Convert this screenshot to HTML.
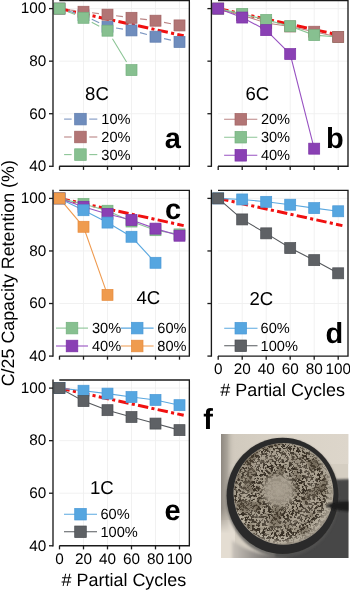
<!DOCTYPE html><html><head><meta charset="utf-8"><style>html,body{margin:0;padding:0;background:#fff;}svg{display:block;will-change:transform;}</style></head><body>
<svg width="350" height="591" viewBox="0 0 350 591" font-family='"Liberation Sans", sans-serif' fill="#000" text-rendering="geometricPrecision">
<rect width="350" height="591" fill="#fff"/>
<line x1="83.5" y1="0.53" x2="83.5" y2="166.28" stroke="#efefef" stroke-width="0.9"/>
<line x1="107.5" y1="0.53" x2="107.5" y2="166.28" stroke="#efefef" stroke-width="0.9"/>
<line x1="131.5" y1="0.53" x2="131.5" y2="166.28" stroke="#efefef" stroke-width="0.9"/>
<line x1="155.5" y1="0.53" x2="155.5" y2="166.28" stroke="#efefef" stroke-width="0.9"/>
<line x1="179.5" y1="0.53" x2="179.5" y2="166.28" stroke="#efefef" stroke-width="0.9"/>
<line x1="59.3" y1="113.72" x2="189.35" y2="113.72" stroke="#efefef" stroke-width="0.9"/>
<line x1="59.3" y1="61.16" x2="189.35" y2="61.16" stroke="#efefef" stroke-width="0.9"/>
<line x1="59.3" y1="8.6" x2="189.35" y2="8.6" stroke="#efefef" stroke-width="0.9"/>
<line x1="59.5" y1="8.6" x2="183.7" y2="35.8" stroke="#f01010" stroke-width="3" stroke-dasharray="10.4 3.3 3.1 3.3"/>
<path d="M67.99,10.92L75.01,12.85M91.79,19.17L99.21,22.74M116.06,28.05L122.94,29.1M140,32.65L147,34.49M164.03,38.59L170.97,40.11" fill="none" stroke="#7d97c2" stroke-width="1.1"/>
<path d="M68.07,9.73L74.93,10.63M92.08,12.79L98.92,13.61M116.07,15.77L122.93,16.67M140.08,18.83L146.92,19.66M164.04,22.37L170.96,23.74" fill="none" stroke="#bb8585" stroke-width="1.1"/>
<path d="M67.89,11.82L75.11,14.58M91.73,22.21L99.27,26.26M112.46,38.82L126.54,61.95" fill="none" stroke="#8cc596" stroke-width="1.1"/>
<rect x="54" y="3.1" width="11.0" height="11.0" fill="#6f8dbd" stroke="#5f7dae" stroke-width="0.7"/>
<rect x="78" y="9.67" width="11.0" height="11.0" fill="#6f8dbd" stroke="#5f7dae" stroke-width="0.7"/>
<rect x="102" y="21.23" width="11.0" height="11.0" fill="#6f8dbd" stroke="#5f7dae" stroke-width="0.7"/>
<rect x="126" y="24.91" width="11.0" height="11.0" fill="#6f8dbd" stroke="#5f7dae" stroke-width="0.7"/>
<rect x="150" y="31.22" width="11.0" height="11.0" fill="#6f8dbd" stroke="#5f7dae" stroke-width="0.7"/>
<rect x="174" y="36.48" width="11.0" height="11.0" fill="#6f8dbd" stroke="#5f7dae" stroke-width="0.7"/>
<rect x="54" y="3.1" width="11.0" height="11.0" fill="#b27575" stroke="#a16262" stroke-width="0.7"/>
<rect x="78" y="6.25" width="11.0" height="11.0" fill="#b27575" stroke="#a16262" stroke-width="0.7"/>
<rect x="102" y="9.14" width="11.0" height="11.0" fill="#b27575" stroke="#a16262" stroke-width="0.7"/>
<rect x="126" y="12.3" width="11.0" height="11.0" fill="#b27575" stroke="#a16262" stroke-width="0.7"/>
<rect x="150" y="15.19" width="11.0" height="11.0" fill="#b27575" stroke="#a16262" stroke-width="0.7"/>
<rect x="174" y="19.92" width="11.0" height="11.0" fill="#b27575" stroke="#a16262" stroke-width="0.7"/>
<rect x="54" y="3.1" width="11.0" height="11.0" fill="#87c090" stroke="#74b07e" stroke-width="0.7"/>
<rect x="78" y="12.3" width="11.0" height="11.0" fill="#87c090" stroke="#74b07e" stroke-width="0.7"/>
<rect x="102" y="25.18" width="11.0" height="11.0" fill="#87c090" stroke="#74b07e" stroke-width="0.7"/>
<rect x="126" y="64.6" width="11.0" height="11.0" fill="#87c090" stroke="#74b07e" stroke-width="0.7"/>
<path d="M59.3,0.53 H189.35 V166.28 H59.3" fill="none" stroke="#1a1a1a" stroke-width="1.35"/>
<line x1="53" y1="-0.07" x2="53" y2="166.88" stroke="#1a1a1a" stroke-width="1.35"/>
<line x1="49" y1="166.28" x2="53" y2="166.28" stroke="#1a1a1a" stroke-width="1.3"/>
<text x="46.2" y="171.08" text-anchor="end" font-size="15.3">40</text>
<line x1="49" y1="113.72" x2="53" y2="113.72" stroke="#1a1a1a" stroke-width="1.3"/>
<text x="46.2" y="118.52" text-anchor="end" font-size="15.3">60</text>
<line x1="49" y1="61.16" x2="53" y2="61.16" stroke="#1a1a1a" stroke-width="1.3"/>
<text x="46.2" y="65.96" text-anchor="end" font-size="15.3">80</text>
<line x1="49" y1="8.6" x2="53" y2="8.6" stroke="#1a1a1a" stroke-width="1.3"/>
<text x="46.2" y="13.4" text-anchor="end" font-size="15.3">100</text>
<line x1="59.5" y1="166.28" x2="59.5" y2="169.88" stroke="#1a1a1a" stroke-width="1.3"/>
<line x1="83.5" y1="166.28" x2="83.5" y2="169.88" stroke="#1a1a1a" stroke-width="1.3"/>
<line x1="107.5" y1="166.28" x2="107.5" y2="169.88" stroke="#1a1a1a" stroke-width="1.3"/>
<line x1="131.5" y1="166.28" x2="131.5" y2="169.88" stroke="#1a1a1a" stroke-width="1.3"/>
<line x1="155.5" y1="166.28" x2="155.5" y2="169.88" stroke="#1a1a1a" stroke-width="1.3"/>
<line x1="179.5" y1="166.28" x2="179.5" y2="169.88" stroke="#1a1a1a" stroke-width="1.3"/>
<text x="97" y="99.6" text-anchor="middle" font-size="18.6">8C</text>
<line x1="64.1" y1="119.1" x2="71.65" y2="119.1" stroke="#7d97c2" stroke-width="1.1"/>
<line x1="89.25" y1="119.1" x2="97.3" y2="119.1" stroke="#7d97c2" stroke-width="1.1"/>
<rect x="74.65" y="113.3" width="11.6" height="11.6" fill="#6f8dbd" stroke="#5f7dae" stroke-width="0.7"/>
<text x="101.3" y="124.2" font-size="14.6">10%</text>
<line x1="64.1" y1="137" x2="71.65" y2="137" stroke="#bb8585" stroke-width="1.1"/>
<line x1="89.25" y1="137" x2="97.3" y2="137" stroke="#bb8585" stroke-width="1.1"/>
<rect x="74.65" y="131.2" width="11.6" height="11.6" fill="#b27575" stroke="#a16262" stroke-width="0.7"/>
<text x="101.3" y="142.1" font-size="14.6">20%</text>
<line x1="64.1" y1="154.6" x2="71.65" y2="154.6" stroke="#8cc596" stroke-width="1.1"/>
<line x1="89.25" y1="154.6" x2="97.3" y2="154.6" stroke="#8cc596" stroke-width="1.1"/>
<rect x="74.65" y="148.8" width="11.6" height="11.6" fill="#87c090" stroke="#74b07e" stroke-width="0.7"/>
<text x="101.3" y="159.7" font-size="14.6">30%</text>
<text x="172.75" y="147.8" text-anchor="middle" font-size="29" font-weight="bold">a</text>
<line x1="242.2" y1="0.53" x2="242.2" y2="166.28" stroke="#efefef" stroke-width="0.9"/>
<line x1="266.2" y1="0.53" x2="266.2" y2="166.28" stroke="#efefef" stroke-width="0.9"/>
<line x1="290.2" y1="0.53" x2="290.2" y2="166.28" stroke="#efefef" stroke-width="0.9"/>
<line x1="314.2" y1="0.53" x2="314.2" y2="166.28" stroke="#efefef" stroke-width="0.9"/>
<line x1="338.2" y1="0.53" x2="338.2" y2="166.28" stroke="#efefef" stroke-width="0.9"/>
<line x1="218" y1="113.72" x2="348" y2="113.72" stroke="#efefef" stroke-width="0.9"/>
<line x1="218" y1="61.16" x2="348" y2="61.16" stroke="#efefef" stroke-width="0.9"/>
<line x1="218" y1="8.6" x2="348" y2="8.6" stroke="#efefef" stroke-width="0.9"/>
<line x1="218.2" y1="8.6" x2="342.4" y2="35.8" stroke="#f01010" stroke-width="3" stroke-dasharray="10.4 3.3 3.1 3.3"/>
<polyline points="218.2,8.6 242.2,15.17 266.2,23.05 290.2,26.47 314.2,31.73 338.2,36.98" fill="none" stroke="#bb8585" stroke-width="1.1"/>
<polyline points="218.2,8.6 242.2,13.86 266.2,19.9 290.2,26.21 314.2,35.14 338.2,36.98" fill="none" stroke="#8cc596" stroke-width="1.1"/>
<polyline points="218.2,8.6 242.2,17.54 266.2,30.15 290.2,54.06 314.2,148.67" fill="none" stroke="#9852c2" stroke-width="1.1"/>
<rect x="332.7" y="31.48" width="11.0" height="11.0" fill="#87c090" stroke="#74b07e" stroke-width="0.7"/>
<rect x="212.7" y="3.1" width="11.0" height="11.0" fill="#b27575" stroke="#a16262" stroke-width="0.7"/>
<rect x="236.7" y="9.67" width="11.0" height="11.0" fill="#b27575" stroke="#a16262" stroke-width="0.7"/>
<rect x="260.7" y="17.55" width="11.0" height="11.0" fill="#b27575" stroke="#a16262" stroke-width="0.7"/>
<rect x="284.7" y="20.97" width="11.0" height="11.0" fill="#b27575" stroke="#a16262" stroke-width="0.7"/>
<rect x="308.7" y="26.23" width="11.0" height="11.0" fill="#b27575" stroke="#a16262" stroke-width="0.7"/>
<rect x="332.7" y="31.48" width="11.0" height="11.0" fill="#b27575" stroke="#a16262" stroke-width="0.7"/>
<rect x="212.7" y="3.1" width="11.0" height="11.0" fill="#87c090" stroke="#74b07e" stroke-width="0.7"/>
<rect x="236.7" y="8.36" width="11.0" height="11.0" fill="#87c090" stroke="#74b07e" stroke-width="0.7"/>
<rect x="260.7" y="14.4" width="11.0" height="11.0" fill="#87c090" stroke="#74b07e" stroke-width="0.7"/>
<rect x="284.7" y="20.71" width="11.0" height="11.0" fill="#87c090" stroke="#74b07e" stroke-width="0.7"/>
<rect x="308.7" y="29.64" width="11.0" height="11.0" fill="#87c090" stroke="#74b07e" stroke-width="0.7"/>
<rect x="212.7" y="3.1" width="11.0" height="11.0" fill="#8a40b4" stroke="#7b31a6" stroke-width="0.7"/>
<rect x="236.7" y="12.04" width="11.0" height="11.0" fill="#8a40b4" stroke="#7b31a6" stroke-width="0.7"/>
<rect x="260.7" y="24.65" width="11.0" height="11.0" fill="#8a40b4" stroke="#7b31a6" stroke-width="0.7"/>
<rect x="284.7" y="48.56" width="11.0" height="11.0" fill="#8a40b4" stroke="#7b31a6" stroke-width="0.7"/>
<rect x="308.7" y="143.17" width="11.0" height="11.0" fill="#8a40b4" stroke="#7b31a6" stroke-width="0.7"/>
<path d="M218,0.53 H348 V166.28 H218" fill="none" stroke="#1a1a1a" stroke-width="1.35"/>
<line x1="211.4" y1="-0.07" x2="211.4" y2="166.88" stroke="#1a1a1a" stroke-width="1.35"/>
<line x1="207.4" y1="166.28" x2="211.4" y2="166.28" stroke="#1a1a1a" stroke-width="1.3"/>
<line x1="207.4" y1="113.72" x2="211.4" y2="113.72" stroke="#1a1a1a" stroke-width="1.3"/>
<line x1="207.4" y1="61.16" x2="211.4" y2="61.16" stroke="#1a1a1a" stroke-width="1.3"/>
<line x1="207.4" y1="8.6" x2="211.4" y2="8.6" stroke="#1a1a1a" stroke-width="1.3"/>
<line x1="218.2" y1="166.28" x2="218.2" y2="169.88" stroke="#1a1a1a" stroke-width="1.3"/>
<line x1="242.2" y1="166.28" x2="242.2" y2="169.88" stroke="#1a1a1a" stroke-width="1.3"/>
<line x1="266.2" y1="166.28" x2="266.2" y2="169.88" stroke="#1a1a1a" stroke-width="1.3"/>
<line x1="290.2" y1="166.28" x2="290.2" y2="169.88" stroke="#1a1a1a" stroke-width="1.3"/>
<line x1="314.2" y1="166.28" x2="314.2" y2="169.88" stroke="#1a1a1a" stroke-width="1.3"/>
<line x1="338.2" y1="166.28" x2="338.2" y2="169.88" stroke="#1a1a1a" stroke-width="1.3"/>
<text x="257.3" y="99.8" text-anchor="middle" font-size="18.6">6C</text>
<line x1="224.1" y1="119.3" x2="257.3" y2="119.3" stroke="#bb8585" stroke-width="1.1"/>
<rect x="235" y="113.5" width="11.6" height="11.6" fill="#b27575" stroke="#a16262" stroke-width="0.7"/>
<text x="260.9" y="124.4" font-size="14.6">20%</text>
<line x1="224.1" y1="137.2" x2="257.3" y2="137.2" stroke="#8cc596" stroke-width="1.1"/>
<rect x="235" y="131.4" width="11.6" height="11.6" fill="#87c090" stroke="#74b07e" stroke-width="0.7"/>
<text x="260.9" y="142.3" font-size="14.6">30%</text>
<line x1="224.1" y1="155.3" x2="257.3" y2="155.3" stroke="#9852c2" stroke-width="1.1"/>
<rect x="235" y="149.5" width="11.6" height="11.6" fill="#8a40b4" stroke="#7b31a6" stroke-width="0.7"/>
<text x="260.9" y="160.4" font-size="14.6">40%</text>
<text x="334.95" y="147.9" text-anchor="middle" font-size="29" font-weight="bold">b</text>
<line x1="83.5" y1="190.33" x2="83.5" y2="356.08" stroke="#efefef" stroke-width="0.9"/>
<line x1="107.5" y1="190.33" x2="107.5" y2="356.08" stroke="#efefef" stroke-width="0.9"/>
<line x1="131.5" y1="190.33" x2="131.5" y2="356.08" stroke="#efefef" stroke-width="0.9"/>
<line x1="155.5" y1="190.33" x2="155.5" y2="356.08" stroke="#efefef" stroke-width="0.9"/>
<line x1="179.5" y1="190.33" x2="179.5" y2="356.08" stroke="#efefef" stroke-width="0.9"/>
<line x1="59.3" y1="303.52" x2="189.35" y2="303.52" stroke="#efefef" stroke-width="0.9"/>
<line x1="59.3" y1="250.96" x2="189.35" y2="250.96" stroke="#efefef" stroke-width="0.9"/>
<line x1="59.3" y1="198.4" x2="189.35" y2="198.4" stroke="#efefef" stroke-width="0.9"/>
<line x1="59.5" y1="198.4" x2="183.7" y2="225.6" stroke="#f01010" stroke-width="3" stroke-dasharray="10.4 3.3 3.1 3.3"/>
<polyline points="59.5,198.4 83.5,203.92 107.5,210.75 131.5,221.53 155.5,230.2 179.5,234.4" fill="none" stroke="#8cc596" stroke-width="1.1"/>
<polyline points="59.5,198.4 83.5,206.81 107.5,213.91 131.5,219.95 155.5,228.62 179.5,235.72" fill="none" stroke="#9852c2" stroke-width="1.1"/>
<polyline points="59.5,198.4 83.5,210.23 107.5,222.58 131.5,236.77 155.5,262.79" fill="none" stroke="#5aa8e0" stroke-width="1.1"/>
<polyline points="59.5,198.4 83.5,226.78 107.5,294.85" fill="none" stroke="#ef9b50" stroke-width="1.1"/>
<rect x="54" y="192.9" width="11.0" height="11.0" fill="#87c090" stroke="#74b07e" stroke-width="0.7"/>
<rect x="78" y="198.42" width="11.0" height="11.0" fill="#87c090" stroke="#74b07e" stroke-width="0.7"/>
<rect x="102" y="205.25" width="11.0" height="11.0" fill="#87c090" stroke="#74b07e" stroke-width="0.7"/>
<rect x="126" y="216.03" width="11.0" height="11.0" fill="#87c090" stroke="#74b07e" stroke-width="0.7"/>
<rect x="150" y="224.7" width="11.0" height="11.0" fill="#87c090" stroke="#74b07e" stroke-width="0.7"/>
<rect x="174" y="228.9" width="11.0" height="11.0" fill="#87c090" stroke="#74b07e" stroke-width="0.7"/>
<rect x="54" y="192.9" width="11.0" height="11.0" fill="#8a40b4" stroke="#7b31a6" stroke-width="0.7"/>
<rect x="78" y="201.31" width="11.0" height="11.0" fill="#8a40b4" stroke="#7b31a6" stroke-width="0.7"/>
<rect x="102" y="208.41" width="11.0" height="11.0" fill="#8a40b4" stroke="#7b31a6" stroke-width="0.7"/>
<rect x="126" y="214.45" width="11.0" height="11.0" fill="#8a40b4" stroke="#7b31a6" stroke-width="0.7"/>
<rect x="150" y="223.12" width="11.0" height="11.0" fill="#8a40b4" stroke="#7b31a6" stroke-width="0.7"/>
<rect x="174" y="230.22" width="11.0" height="11.0" fill="#8a40b4" stroke="#7b31a6" stroke-width="0.7"/>
<rect x="54" y="192.9" width="11.0" height="11.0" fill="#56a6e0" stroke="#4b99d6" stroke-width="0.7"/>
<rect x="78" y="204.73" width="11.0" height="11.0" fill="#56a6e0" stroke="#4b99d6" stroke-width="0.7"/>
<rect x="102" y="217.08" width="11.0" height="11.0" fill="#56a6e0" stroke="#4b99d6" stroke-width="0.7"/>
<rect x="126" y="231.27" width="11.0" height="11.0" fill="#56a6e0" stroke="#4b99d6" stroke-width="0.7"/>
<rect x="150" y="257.29" width="11.0" height="11.0" fill="#56a6e0" stroke="#4b99d6" stroke-width="0.7"/>
<rect x="54" y="192.9" width="11.0" height="11.0" fill="#ef9b4e" stroke="#e78b3d" stroke-width="0.7"/>
<rect x="78" y="221.28" width="11.0" height="11.0" fill="#ef9b4e" stroke="#e78b3d" stroke-width="0.7"/>
<rect x="102" y="289.35" width="11.0" height="11.0" fill="#ef9b4e" stroke="#e78b3d" stroke-width="0.7"/>
<path d="M59.3,190.33 H189.35 V356.08 H59.3" fill="none" stroke="#1a1a1a" stroke-width="1.35"/>
<line x1="53" y1="189.73" x2="53" y2="356.68" stroke="#1a1a1a" stroke-width="1.35"/>
<line x1="49" y1="356.08" x2="53" y2="356.08" stroke="#1a1a1a" stroke-width="1.3"/>
<text x="46.2" y="360.88" text-anchor="end" font-size="15.3">40</text>
<line x1="49" y1="303.52" x2="53" y2="303.52" stroke="#1a1a1a" stroke-width="1.3"/>
<text x="46.2" y="308.32" text-anchor="end" font-size="15.3">60</text>
<line x1="49" y1="250.96" x2="53" y2="250.96" stroke="#1a1a1a" stroke-width="1.3"/>
<text x="46.2" y="255.76" text-anchor="end" font-size="15.3">80</text>
<line x1="49" y1="198.4" x2="53" y2="198.4" stroke="#1a1a1a" stroke-width="1.3"/>
<text x="46.2" y="203.2" text-anchor="end" font-size="15.3">100</text>
<line x1="59.5" y1="356.08" x2="59.5" y2="359.68" stroke="#1a1a1a" stroke-width="1.3"/>
<line x1="83.5" y1="356.08" x2="83.5" y2="359.68" stroke="#1a1a1a" stroke-width="1.3"/>
<line x1="107.5" y1="356.08" x2="107.5" y2="359.68" stroke="#1a1a1a" stroke-width="1.3"/>
<line x1="131.5" y1="356.08" x2="131.5" y2="359.68" stroke="#1a1a1a" stroke-width="1.3"/>
<line x1="155.5" y1="356.08" x2="155.5" y2="359.68" stroke="#1a1a1a" stroke-width="1.3"/>
<line x1="179.5" y1="356.08" x2="179.5" y2="359.68" stroke="#1a1a1a" stroke-width="1.3"/>
<text x="148.3" y="304.4" text-anchor="middle" font-size="18.6">4C</text>
<line x1="56" y1="328.1" x2="88" y2="328.1" stroke="#8cc596" stroke-width="1.1"/>
<rect x="66.2" y="322.3" width="11.6" height="11.6" fill="#87c090" stroke="#74b07e" stroke-width="0.7"/>
<text x="92" y="333.2" font-size="14.6">30%</text>
<line x1="56" y1="346" x2="88" y2="346" stroke="#9852c2" stroke-width="1.1"/>
<rect x="66.2" y="340.2" width="11.6" height="11.6" fill="#8a40b4" stroke="#7b31a6" stroke-width="0.7"/>
<text x="92" y="351.1" font-size="14.6">40%</text>
<line x1="121" y1="328.1" x2="153.6" y2="328.1" stroke="#5aa8e0" stroke-width="1.1"/>
<rect x="131.4" y="322.3" width="11.6" height="11.6" fill="#56a6e0" stroke="#4b99d6" stroke-width="0.7"/>
<text x="157.3" y="333.2" font-size="14.6">60%</text>
<line x1="121" y1="346" x2="153.6" y2="346" stroke="#ef9b50" stroke-width="1.1"/>
<rect x="131.4" y="340.2" width="11.6" height="11.6" fill="#ef9b4e" stroke="#e78b3d" stroke-width="0.7"/>
<text x="157.3" y="351.1" font-size="14.6">80%</text>
<text x="173" y="219.2" text-anchor="middle" font-size="29" font-weight="bold">c</text>
<line x1="242.2" y1="190.33" x2="242.2" y2="356.08" stroke="#efefef" stroke-width="0.9"/>
<line x1="266.2" y1="190.33" x2="266.2" y2="356.08" stroke="#efefef" stroke-width="0.9"/>
<line x1="290.2" y1="190.33" x2="290.2" y2="356.08" stroke="#efefef" stroke-width="0.9"/>
<line x1="314.2" y1="190.33" x2="314.2" y2="356.08" stroke="#efefef" stroke-width="0.9"/>
<line x1="338.2" y1="190.33" x2="338.2" y2="356.08" stroke="#efefef" stroke-width="0.9"/>
<line x1="218" y1="303.52" x2="348" y2="303.52" stroke="#efefef" stroke-width="0.9"/>
<line x1="218" y1="250.96" x2="348" y2="250.96" stroke="#efefef" stroke-width="0.9"/>
<line x1="218" y1="198.4" x2="348" y2="198.4" stroke="#efefef" stroke-width="0.9"/>
<line x1="218.2" y1="198.4" x2="342.4" y2="225.6" stroke="#f01010" stroke-width="3" stroke-dasharray="10.4 3.3 3.1 3.3"/>
<polyline points="218.2,198.4 242.2,199.45 266.2,201.82 290.2,204.71 314.2,208.12 338.2,211.28" fill="none" stroke="#5aa8e0" stroke-width="1.1"/>
<polyline points="218.2,198.4 242.2,219.42 266.2,233.35 290.2,248.07 314.2,260.16 338.2,273.3" fill="none" stroke="#55585c" stroke-width="1.1"/>
<rect x="212.7" y="192.9" width="11.0" height="11.0" fill="#56a6e0" stroke="#4b99d6" stroke-width="0.7"/>
<rect x="236.7" y="193.95" width="11.0" height="11.0" fill="#56a6e0" stroke="#4b99d6" stroke-width="0.7"/>
<rect x="260.7" y="196.32" width="11.0" height="11.0" fill="#56a6e0" stroke="#4b99d6" stroke-width="0.7"/>
<rect x="284.7" y="199.21" width="11.0" height="11.0" fill="#56a6e0" stroke="#4b99d6" stroke-width="0.7"/>
<rect x="308.7" y="202.62" width="11.0" height="11.0" fill="#56a6e0" stroke="#4b99d6" stroke-width="0.7"/>
<rect x="332.7" y="205.78" width="11.0" height="11.0" fill="#56a6e0" stroke="#4b99d6" stroke-width="0.7"/>
<rect x="212.7" y="192.9" width="11.0" height="11.0" fill="#5e6165" stroke="#4c4f53" stroke-width="0.7"/>
<rect x="236.7" y="213.92" width="11.0" height="11.0" fill="#5e6165" stroke="#4c4f53" stroke-width="0.7"/>
<rect x="260.7" y="227.85" width="11.0" height="11.0" fill="#5e6165" stroke="#4c4f53" stroke-width="0.7"/>
<rect x="284.7" y="242.57" width="11.0" height="11.0" fill="#5e6165" stroke="#4c4f53" stroke-width="0.7"/>
<rect x="308.7" y="254.66" width="11.0" height="11.0" fill="#5e6165" stroke="#4c4f53" stroke-width="0.7"/>
<rect x="332.7" y="267.8" width="11.0" height="11.0" fill="#5e6165" stroke="#4c4f53" stroke-width="0.7"/>
<path d="M218,190.33 H348 V356.08 H218" fill="none" stroke="#1a1a1a" stroke-width="1.35"/>
<line x1="211.4" y1="189.73" x2="211.4" y2="356.68" stroke="#1a1a1a" stroke-width="1.35"/>
<line x1="207.4" y1="356.08" x2="211.4" y2="356.08" stroke="#1a1a1a" stroke-width="1.3"/>
<line x1="207.4" y1="303.52" x2="211.4" y2="303.52" stroke="#1a1a1a" stroke-width="1.3"/>
<line x1="207.4" y1="250.96" x2="211.4" y2="250.96" stroke="#1a1a1a" stroke-width="1.3"/>
<line x1="207.4" y1="198.4" x2="211.4" y2="198.4" stroke="#1a1a1a" stroke-width="1.3"/>
<line x1="218.2" y1="356.08" x2="218.2" y2="359.68" stroke="#1a1a1a" stroke-width="1.3"/>
<text x="218.2" y="374.28" text-anchor="middle" font-size="15.3">0</text>
<line x1="242.2" y1="356.08" x2="242.2" y2="359.68" stroke="#1a1a1a" stroke-width="1.3"/>
<text x="242.2" y="374.28" text-anchor="middle" font-size="15.3">20</text>
<line x1="266.2" y1="356.08" x2="266.2" y2="359.68" stroke="#1a1a1a" stroke-width="1.3"/>
<text x="266.2" y="374.28" text-anchor="middle" font-size="15.3">40</text>
<line x1="290.2" y1="356.08" x2="290.2" y2="359.68" stroke="#1a1a1a" stroke-width="1.3"/>
<text x="290.2" y="374.28" text-anchor="middle" font-size="15.3">60</text>
<line x1="314.2" y1="356.08" x2="314.2" y2="359.68" stroke="#1a1a1a" stroke-width="1.3"/>
<text x="314.2" y="374.28" text-anchor="middle" font-size="15.3">80</text>
<line x1="338.2" y1="356.08" x2="338.2" y2="359.68" stroke="#1a1a1a" stroke-width="1.3"/>
<text x="338.2" y="374.28" text-anchor="middle" font-size="15.3">100</text>
<text x="282.6" y="396.38" text-anchor="middle" font-size="17.95"># Partial Cycles</text>
<text x="261.35" y="304.6" text-anchor="middle" font-size="18.6">2C</text>
<line x1="224.2" y1="328.2" x2="257.5" y2="328.2" stroke="#5aa8e0" stroke-width="1.1"/>
<rect x="235" y="322.4" width="11.6" height="11.6" fill="#56a6e0" stroke="#4b99d6" stroke-width="0.7"/>
<text x="260.6" y="333.3" font-size="14.6">60%</text>
<line x1="224.2" y1="345.8" x2="257.5" y2="345.8" stroke="#55585c" stroke-width="1.1"/>
<rect x="235" y="340" width="11.6" height="11.6" fill="#5e6165" stroke="#4c4f53" stroke-width="0.7"/>
<text x="260.6" y="350.9" font-size="14.6">100%</text>
<text x="334.25" y="342.9" text-anchor="middle" font-size="29" font-weight="bold">d</text>
<line x1="83.5" y1="380.03" x2="83.5" y2="545.78" stroke="#efefef" stroke-width="0.9"/>
<line x1="107.5" y1="380.03" x2="107.5" y2="545.78" stroke="#efefef" stroke-width="0.9"/>
<line x1="131.5" y1="380.03" x2="131.5" y2="545.78" stroke="#efefef" stroke-width="0.9"/>
<line x1="155.5" y1="380.03" x2="155.5" y2="545.78" stroke="#efefef" stroke-width="0.9"/>
<line x1="179.5" y1="380.03" x2="179.5" y2="545.78" stroke="#efefef" stroke-width="0.9"/>
<line x1="59.3" y1="493.22" x2="189.35" y2="493.22" stroke="#efefef" stroke-width="0.9"/>
<line x1="59.3" y1="440.66" x2="189.35" y2="440.66" stroke="#efefef" stroke-width="0.9"/>
<line x1="59.3" y1="388.1" x2="189.35" y2="388.1" stroke="#efefef" stroke-width="0.9"/>
<line x1="59.5" y1="388.1" x2="183.7" y2="415.3" stroke="#f01010" stroke-width="3" stroke-dasharray="10.4 3.3 3.1 3.3"/>
<polyline points="59.5,388.1 83.5,390.73 107.5,393.62 131.5,397.04 155.5,399.93 179.5,405.18" fill="none" stroke="#5aa8e0" stroke-width="1.1"/>
<polyline points="59.5,388.1 83.5,401.11 107.5,410.18 131.5,417.01 155.5,423.58 179.5,430.15" fill="none" stroke="#55585c" stroke-width="1.1"/>
<rect x="54" y="382.6" width="11.0" height="11.0" fill="#56a6e0" stroke="#4b99d6" stroke-width="0.7"/>
<rect x="78" y="385.23" width="11.0" height="11.0" fill="#56a6e0" stroke="#4b99d6" stroke-width="0.7"/>
<rect x="102" y="388.12" width="11.0" height="11.0" fill="#56a6e0" stroke="#4b99d6" stroke-width="0.7"/>
<rect x="126" y="391.54" width="11.0" height="11.0" fill="#56a6e0" stroke="#4b99d6" stroke-width="0.7"/>
<rect x="150" y="394.43" width="11.0" height="11.0" fill="#56a6e0" stroke="#4b99d6" stroke-width="0.7"/>
<rect x="174" y="399.68" width="11.0" height="11.0" fill="#56a6e0" stroke="#4b99d6" stroke-width="0.7"/>
<rect x="54" y="382.6" width="11.0" height="11.0" fill="#5e6165" stroke="#4c4f53" stroke-width="0.7"/>
<rect x="78" y="395.61" width="11.0" height="11.0" fill="#5e6165" stroke="#4c4f53" stroke-width="0.7"/>
<rect x="102" y="404.68" width="11.0" height="11.0" fill="#5e6165" stroke="#4c4f53" stroke-width="0.7"/>
<rect x="126" y="411.51" width="11.0" height="11.0" fill="#5e6165" stroke="#4c4f53" stroke-width="0.7"/>
<rect x="150" y="418.08" width="11.0" height="11.0" fill="#5e6165" stroke="#4c4f53" stroke-width="0.7"/>
<rect x="174" y="424.65" width="11.0" height="11.0" fill="#5e6165" stroke="#4c4f53" stroke-width="0.7"/>
<path d="M59.3,380.03 H189.35 V545.78 H59.3" fill="none" stroke="#1a1a1a" stroke-width="1.35"/>
<line x1="53" y1="379.43" x2="53" y2="546.38" stroke="#1a1a1a" stroke-width="1.35"/>
<line x1="49" y1="545.78" x2="53" y2="545.78" stroke="#1a1a1a" stroke-width="1.3"/>
<text x="46.2" y="550.58" text-anchor="end" font-size="15.3">40</text>
<line x1="49" y1="493.22" x2="53" y2="493.22" stroke="#1a1a1a" stroke-width="1.3"/>
<text x="46.2" y="498.02" text-anchor="end" font-size="15.3">60</text>
<line x1="49" y1="440.66" x2="53" y2="440.66" stroke="#1a1a1a" stroke-width="1.3"/>
<text x="46.2" y="445.46" text-anchor="end" font-size="15.3">80</text>
<line x1="49" y1="388.1" x2="53" y2="388.1" stroke="#1a1a1a" stroke-width="1.3"/>
<text x="46.2" y="392.9" text-anchor="end" font-size="15.3">100</text>
<line x1="59.5" y1="545.78" x2="59.5" y2="549.38" stroke="#1a1a1a" stroke-width="1.3"/>
<text x="59.5" y="563.98" text-anchor="middle" font-size="15.3">0</text>
<line x1="83.5" y1="545.78" x2="83.5" y2="549.38" stroke="#1a1a1a" stroke-width="1.3"/>
<text x="83.5" y="563.98" text-anchor="middle" font-size="15.3">20</text>
<line x1="107.5" y1="545.78" x2="107.5" y2="549.38" stroke="#1a1a1a" stroke-width="1.3"/>
<text x="107.5" y="563.98" text-anchor="middle" font-size="15.3">40</text>
<line x1="131.5" y1="545.78" x2="131.5" y2="549.38" stroke="#1a1a1a" stroke-width="1.3"/>
<text x="131.5" y="563.98" text-anchor="middle" font-size="15.3">60</text>
<line x1="155.5" y1="545.78" x2="155.5" y2="549.38" stroke="#1a1a1a" stroke-width="1.3"/>
<text x="155.5" y="563.98" text-anchor="middle" font-size="15.3">80</text>
<line x1="179.5" y1="545.78" x2="179.5" y2="549.38" stroke="#1a1a1a" stroke-width="1.3"/>
<text x="179.5" y="563.98" text-anchor="middle" font-size="15.3">100</text>
<text x="123.92" y="586.08" text-anchor="middle" font-size="17.95"># Partial Cycles</text>
<text x="101.8" y="494" text-anchor="middle" font-size="18.6">1C</text>
<line x1="64" y1="514.2" x2="97" y2="514.2" stroke="#5aa8e0" stroke-width="1.1"/>
<rect x="74.7" y="508.4" width="11.6" height="11.6" fill="#56a6e0" stroke="#4b99d6" stroke-width="0.7"/>
<text x="100.5" y="519.3" font-size="14.6">60%</text>
<line x1="64" y1="531.8" x2="97" y2="531.8" stroke="#55585c" stroke-width="1.1"/>
<rect x="74.7" y="526" width="11.6" height="11.6" fill="#5e6165" stroke="#4c4f53" stroke-width="0.7"/>
<text x="100.5" y="536.9" font-size="14.6">100%</text>
<text x="172.55" y="520.1" text-anchor="middle" font-size="29" font-weight="bold">e</text>
<text transform="translate(13.5,273.2) rotate(-90)" text-anchor="middle" font-size="17.85">C/25 Capacity Retention (%)</text>
<text x="208.15" y="429" text-anchor="middle" font-size="29" font-weight="bold">f</text>
<g>
<defs>
<clipPath id="pc"><rect x="221" y="434" width="127.5" height="124"/></clipPath>
<linearGradient id="lstrip" x1="0" y1="0" x2="0" y2="1">
<stop offset="0" stop-color="#b4ada3"/><stop offset="0.55" stop-color="#c3bcb1"/><stop offset="0.75" stop-color="#dcd5ca"/><stop offset="1" stop-color="#e2dbd0"/>
</linearGradient>
<linearGradient id="topg" x1="0" y1="0" x2="1" y2="0">
<stop offset="0" stop-color="#cfc8bc"/><stop offset="0.5" stop-color="#d9d2c6"/><stop offset="1" stop-color="#ddd6cb"/>
</linearGradient>
<radialGradient id="inner" cx="0.47" cy="0.45" r="0.55">
<stop offset="0" stop-color="#aca394"/><stop offset="0.22" stop-color="#a9a091"/><stop offset="0.4" stop-color="#a09787"/><stop offset="0.6" stop-color="#a89f90"/><stop offset="0.8" stop-color="#9d9484"/><stop offset="0.88" stop-color="#b2aa9b"/><stop offset="0.96" stop-color="#b6ae9f"/><stop offset="1" stop-color="#a0988b"/>
</radialGradient>
<radialGradient id="spmask" cx="0.45" cy="0.47" r="0.55">
<stop offset="0" stop-color="#fff" stop-opacity="0"/><stop offset="0.24" stop-color="#fff" stop-opacity="0.15"/><stop offset="0.36" stop-color="#fff" stop-opacity="0.9"/><stop offset="0.48" stop-color="#fff" stop-opacity="1"/><stop offset="0.6" stop-color="#fff" stop-opacity="0.65"/><stop offset="0.7" stop-color="#fff" stop-opacity="0.8"/><stop offset="0.8" stop-color="#fff" stop-opacity="1"/><stop offset="0.87" stop-color="#fff" stop-opacity="0.8"/><stop offset="0.93" stop-color="#fff" stop-opacity="0.3"/><stop offset="1" stop-color="#fff" stop-opacity="0.15"/>
</radialGradient>
<mask id="spm"><ellipse cx="283.5" cy="493.8" rx="49.5" ry="50.4" fill="url(#spmask)"/></mask>
<filter id="spk" x="230" y="440" width="110" height="110" filterUnits="userSpaceOnUse" color-interpolation-filters="sRGB">
<feTurbulence type="fractalNoise" baseFrequency="0.38" numOctaves="3" seed="7" result="n"/>
<feColorMatrix in="n" type="matrix" values="0 0 0 0 0.2  0 0 0 0 0.17  0 0 0 0 0.13  -18 0 0 0 9.4"/>
<feGaussianBlur stdDeviation="0.5"/>
</filter>
<filter id="lsp" x="230" y="440" width="110" height="110" filterUnits="userSpaceOnUse" color-interpolation-filters="sRGB">
<feTurbulence type="fractalNoise" baseFrequency="0.35" numOctaves="2" seed="11" result="n"/>
<feColorMatrix in="n" type="matrix" values="0 0 0 0 0.8  0 0 0 0 0.76  0 0 0 0 0.68  0 9 0 0 -4.8"/>
<feGaussianBlur stdDeviation="0.7"/>
</filter>
<filter id="mot" x="230" y="440" width="110" height="110" filterUnits="userSpaceOnUse" color-interpolation-filters="sRGB">
<feTurbulence type="fractalNoise" baseFrequency="0.07" numOctaves="2" seed="4" result="n"/>
<feColorMatrix in="n" type="matrix" values="0 0 0 0 0.3  0 0 0 0 0.26  0 0 0 0 0.2  -5 0 0 0 2.6"/>
</filter>
<filter id="bl1" x="-20%" y="-20%" width="140%" height="140%"><feGaussianBlur stdDeviation="1.5"/></filter>
<filter id="bl3" x="-10%" y="-10%" width="120%" height="120%"><feGaussianBlur stdDeviation="0.6"/></filter>
<filter id="bl2" x="-20%" y="-20%" width="140%" height="140%"><feGaussianBlur stdDeviation="0.8"/></filter>
<filter id="bl4" x="-20%" y="-20%" width="140%" height="140%"><feGaussianBlur stdDeviation="0.45"/></filter>
</defs>
<g clip-path="url(#pc)">
<rect x="221" y="434" width="127.5" height="124" fill="#d5cec2"/>
<rect x="221" y="434" width="127.5" height="30" fill="url(#topg)"/>
<linearGradient id="lsh" x1="0" y1="0" x2="1" y2="0"><stop offset="0" stop-color="#8e8880"/><stop offset="0.45" stop-color="#aaa49a"/><stop offset="1" stop-color="#d2cbc0" stop-opacity="0"/></linearGradient>
<linearGradient id="lshm" x1="0" y1="0" x2="0" y2="1"><stop offset="0" stop-color="#fff"/><stop offset="0.6" stop-color="#fff"/><stop offset="0.8" stop-color="#000"/><stop offset="1" stop-color="#000"/></linearGradient>
<mask id="lsm"><rect x="221" y="434" width="14" height="124" fill="url(#lshm)"/></mask>
<rect x="221" y="520" width="14" height="38" fill="#e4ddd2"/>
<rect x="221" y="434" width="14" height="124" fill="url(#lsh)" mask="url(#lsm)"/>
<path d="M318,481 Q335,479 352,479 L352,562 L275,562 L275,553 Q305,552 322,520 Z" fill="#464646" filter="url(#bl2)"/>
<linearGradient id="botg" x1="0" y1="0" x2="1" y2="0"><stop offset="0" stop-color="#c9c3ba"/><stop offset="0.45" stop-color="#8c8884"/><stop offset="1" stop-color="#4d4c4b"/></linearGradient>
<path d="M232,540 Q250,556 290,556 L290,562 L232,562 Z" fill="url(#botg)" filter="url(#bl1)"/>
<ellipse cx="282.6" cy="498" rx="56.3" ry="59.3" fill="#555453" opacity="0.75" filter="url(#bl2)"/>
<ellipse cx="282.55" cy="495.85" rx="55.95" ry="58.15" fill="#2c2b2a" filter="url(#bl4)"/>
<ellipse cx="283.5" cy="493.8" rx="50" ry="50.9" fill="url(#inner)" filter="url(#bl4)"/>
<g mask="url(#spm)"><rect x="230" y="440" width="110" height="110" filter="url(#spk)"/></g>
<g mask="url(#spm)" opacity="0.4"><rect x="230" y="440" width="110" height="110" filter="url(#lsp)"/></g>
<g mask="url(#spm)" opacity="0.55"><rect x="230" y="440" width="110" height="110" filter="url(#mot)"/></g>

<path d="M325.7,505.7 Q332,502 340,501.6 L350,501.2 L350,511.4 L340,510.5 Q332,509.5 325.7,505.7 Z" fill="#1f1f1f" filter="url(#bl2)"/>
</g>
</g>

</svg></body></html>
